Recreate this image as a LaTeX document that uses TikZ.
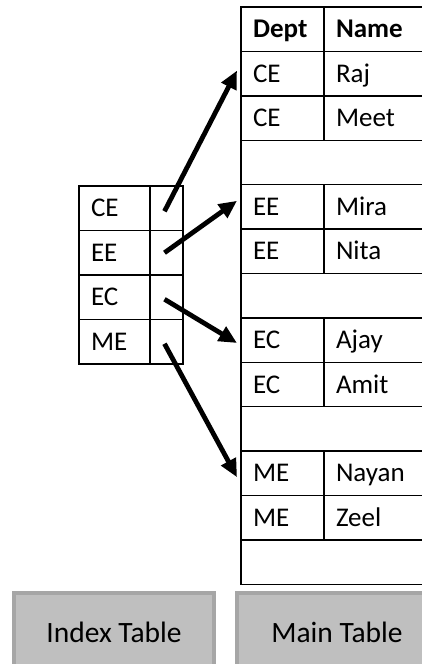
\documentclass[tikz,border=0pt]{standalone}
\usepackage{fontspec}
\setmainfont{Carlito}
\usepackage{xcolor}
\definecolor{capfill}{RGB}{191,191,191}
\definecolor{capedge}{RGB}{166,166,166}
\usetikzlibrary{arrows.meta}

\begin{document}
\begin{tikzpicture}[
  x=1pt, y=-1pt,
  font=\fontsize{27}{32}\selectfont,
  cell/.style={draw, line width=1.4pt, anchor=north west, outer sep=0pt,
               minimum height=44.4pt, inner xsep=12pt, inner ysep=0pt,
               text height=17.4pt, text depth=0pt, align=left},
  deptcell/.style={cell, text width=59pt},
  namecell/.style={cell, text width=116pt},
  gapcell/.style={cell, minimum width=223pt},
  keycell/.style={cell, text width=47pt},
  ptrcell/.style={cell, minimum width=33pt, minimum height=44.5pt},
  caption/.style={draw=capedge, fill=capfill, line width=4pt, anchor=north west,
                  minimum width=200pt, minimum height=78pt,
                  font=\fontsize{29.5}{34}\selectfont},
  link/.style={-{Triangle[length=18pt,width=16pt]}, line width=4.8pt},
]
\useasboundingbox (0,0) rectangle (422,664);
\clip (0,0) rectangle (422,664);

% --- main table ---
\node[deptcell] (d0) at (241,7) {\textbf{Dept}};
\node[namecell] (n0) at (324,7) {\textbf{Name}};
\foreach \i/\dept/\name in {1/CE/Raj, 2/CE/Meet, 4/EE/Mira, 5/EE/Nita,
                            7/EC/Ajay, 8/EC/Amit, 10/ME/Nayan, 11/ME/Zeel} {
  \node[deptcell] (d\i) at (241,{7+44.4*\i}) {\dept};
  \node[namecell] (n\i) at (324,{7+44.4*\i}) {\name};
}
\foreach \i in {3,6,9,12}
  \node[gapcell] (g\i) at (241,{7+44.4*\i}) {};

% --- index table ---
\foreach \j/\key in {0/CE, 1/EE, 2/EC, 3/ME} {
  \node[keycell, minimum height=44.5pt] (k\j) at (79,{186+44.5*\j}) {\key};
  \node[ptrcell] (p\j) at (150,{186+44.5*\j}) {};
}

% --- pointers ---
\draw[link] ([shift={(-2,3)}]p0.center) -- ([shift={(-4,-3)}]d1.west);
\draw[link] ([shift={(-2,0)}]p1.center) -- ([shift={(-4,-6)}]d4.west);
\draw[link] ([shift={(-2,2)}]p2.center) -- ([shift={(-4,3)}]d7.west);
\draw[link] ([shift={(-2,2)}]p3.center) -- ([shift={(-4,4)}]d10.west);

% --- captions ---
\node[caption] (idx) at (12,591) {Index Table};
\node[caption] (main) at (235,591) {Main Table};
\end{tikzpicture}
\end{document}
